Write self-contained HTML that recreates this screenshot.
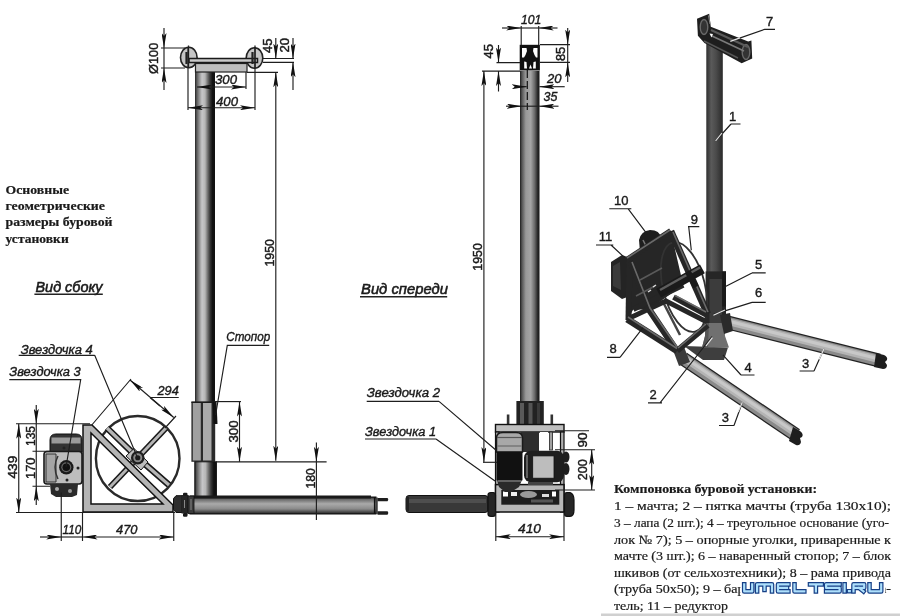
<!DOCTYPE html>
<html><head><meta charset="utf-8"><style>
html,body{margin:0;padding:0;background:#fff;width:900px;height:616px;overflow:hidden}
svg{position:absolute;left:0;top:0;will-change:transform}
.s{font-family:"Liberation Sans",sans-serif;font-style:italic;fill:#1a1a1a;stroke:#1a1a1a;stroke-width:0.38}
.b{font-family:"Liberation Serif",serif;fill:#1a1a1a;stroke:#1a1a1a;stroke-width:0.2}
.dl{stroke:#1e1e1e;stroke-width:1.15;fill:none}
</style></head><body>
<svg width="900" height="616" viewBox="0 0 900 616">
<defs>
<linearGradient id="cylV" x1="0" x2="1" y1="0" y2="0">
<stop offset="0" stop-color="#222"/><stop offset="0.08" stop-color="#555"/><stop offset="0.2" stop-color="#8a8a8a"/><stop offset="0.35" stop-color="#c6c6c8"/><stop offset="0.5" stop-color="#b6b6b6"/><stop offset="0.62" stop-color="#777"/><stop offset="0.75" stop-color="#383838"/><stop offset="0.88" stop-color="#111"/><stop offset="1" stop-color="#111"/>
</linearGradient>
<linearGradient id="cylH" x1="0" x2="0" y1="0" y2="1">
<stop offset="0" stop-color="#1e1e1e"/><stop offset="0.12" stop-color="#666"/><stop offset="0.4" stop-color="#aaa"/><stop offset="0.7" stop-color="#8a8a8a"/><stop offset="0.9" stop-color="#444"/><stop offset="1" stop-color="#1a1a1a"/>
</linearGradient>
<marker id="ar" viewBox="0 0 15 5" refX="15" refY="2.5" markerWidth="15" markerHeight="5" orient="auto-start-reverse" markerUnits="userSpaceOnUse"><path d="M0,0 L15,2.5 L0,5 L3,2.5z" fill="#111"/></marker>
<linearGradient id="cylF" x1="0" x2="1" y1="0" y2="0">
<stop offset="0" stop-color="#1e1e1e"/><stop offset="0.1" stop-color="#555"/><stop offset="0.3" stop-color="#999"/><stop offset="0.55" stop-color="#a5a5a5"/><stop offset="0.75" stop-color="#6a6a6a"/><stop offset="0.9" stop-color="#2a2a2a"/><stop offset="1" stop-color="#151515"/>
</linearGradient>
</defs>

<!-- ============ SIDE VIEW ============ -->
<!-- mast -->
<rect x="195" y="72" width="20" height="330" fill="url(#cylV)"/>
<!-- top block -->
<rect x="195.5" y="63.5" width="51.5" height="8.5" fill="#bdbdbd" stroke="#222" stroke-width="1.2"/>
<ellipse cx="188.8" cy="57.5" rx="8.3" ry="10.3" fill="#c6c6c6" stroke="#222" stroke-width="1.6"/>
<ellipse cx="254.5" cy="58" rx="8.3" ry="10.3" fill="#c6c6c6" stroke="#222" stroke-width="1.6"/>
<rect x="189" y="58.5" width="68.5" height="4" fill="#c8c8c8" stroke="#1a1a1a" stroke-width="1.5"/>
<path d="M188.5,45.5 L188.5,68 M255,45.5 L255,68" stroke="#222" stroke-width="1.3"/>
<path d="M186.5,52 L186.5,64 M252.5,52 L252.5,64" stroke="#222" stroke-width="2.2"/>
<!-- sleeve -->
<rect x="191.4" y="401.6" width="23.8" height="60.2" fill="#2a2a2a"/>
<rect x="192.8" y="403" width="8" height="57.5" fill="#a0a0a0"/>
<rect x="203" y="403" width="8.5" height="57.5" fill="#aaaaaa"/>
<rect x="191.4" y="401.6" width="23.8" height="1.4" fill="#1a1a1a"/>
<path d="M212.5,402 L216.5,402 L217.5,424 L213.5,424Z" fill="#111"/>
<!-- lower pipe -->
<rect x="194.8" y="461.8" width="21.6" height="35.5" fill="url(#cylV)" stroke="#111" stroke-width="1"/>
<!-- horizontal pipe -->
<rect x="190" y="497" width="186" height="17" fill="url(#cylH)" stroke="#111" stroke-width="1"/>
<rect x="190" y="495.5" width="181" height="3" fill="#1a1a1a"/>
<path d="M374.5,497 L374.5,514 M377,497.5 L377,514" stroke="#111" stroke-width="1.2"/>
<path d="M377.5,498 L387.5,498 Q389,499.5 387.5,501.3 L377.5,501.3Z M377.5,511.3 L387.5,511.3 Q389,513 387.5,514.7 L377.5,514.7Z" fill="#1e1e1e"/>
<!-- flange -->
<path d="M173.5,498.5 L176,495.7 L182,495.7 L182,512.5 L176,512.5 L173.5,509.5Z" fill="#2e2e2e" stroke="#111" stroke-width="1"/>
<rect x="181.5" y="495" width="7" height="18.5" fill="#262626"/>
<rect x="183" y="492.8" width="4.5" height="3" rx="1.2" fill="#1a1a1a"/>
<rect x="183" y="513" width="4.5" height="3.8" rx="1.2" fill="#1a1a1a"/>
<rect x="188" y="496" width="6" height="17.5" fill="#3a3a3a" stroke="#111" stroke-width="0.8"/>
<path d="M184.5,500 L184.5,508 M191,499 L191,510" stroke="#888" stroke-width="1"/>
<!-- wheel -->
<ellipse cx="137.7" cy="458.5" rx="41.8" ry="42.5" fill="none" stroke="#2a2a2a" stroke-width="2.4"/>
<path d="M107,428 L137.75,457.75 L169,485" stroke="#1a1a1a" stroke-width="6.5" fill="none"/>
<path d="M107,428 L137.75,457.75 L169,485" stroke="#b5b5b5" stroke-width="3.2" fill="none"/>
<path d="M166,428 L110,487" stroke="#1a1a1a" stroke-width="6"/>
<path d="M166,428 L110,487" stroke="#b5b5b5" stroke-width="2.8"/>
<!-- triangle frame -->
<path d="M83,425 L92,425 L173,505 L173,512 L83,512 Z M91,433 L91,504 L163,504 Z" fill="#b4b4b4" fill-rule="evenodd" stroke="#111" stroke-width="1.5"/>
<path d="M126,456 L134,448.5 L148,462 L141,470Z" fill="#bdbdbd" stroke="#1a1a1a" stroke-width="1"/>
<circle cx="137.75" cy="457.75" r="6.8" fill="#1e1e1e"/>
<circle cx="137.75" cy="457.75" r="4.5" fill="#888"/>
<circle cx="137.75" cy="457.75" r="2.6" fill="#1a1a1a"/>
<!-- motor -->
<path d="M50,452 L50,440 Q50,434 56,434 L76,434 Q82,434 82,440 L82,452Z" fill="#333" stroke="#111" stroke-width="1"/>
<rect x="51.5" y="437.5" width="29" height="6" fill="#9a9a9a"/>
<rect x="44" y="451.5" width="38" height="32.5" rx="3" fill="#bdbdbd" stroke="#1a1a1a" stroke-width="1.6"/>
<path d="M46,454 L56,454 L56,482 L46,482Z" fill="#a5a5a5" stroke="#333" stroke-width="1"/>
<path d="M58,456 Q52,467 58,479" stroke="#333" stroke-width="1.5" fill="none"/>
<circle cx="66.3" cy="467.3" r="7.2" fill="#1a1a1a"/>
<circle cx="66.3" cy="467.3" r="5" fill="#666"/>
<circle cx="66.3" cy="467.3" r="3.8" fill="#111"/>
<circle cx="78" cy="468" r="1.5" fill="#222"/><circle cx="67" cy="480" r="1.5" fill="#222"/><circle cx="64" cy="448" r="1.5" fill="#222"/>
<path d="M50,484 L78,484 L77,495 L72,497 L56,497 L51,494Z" fill="#2a2a2a"/>
<circle cx="57" cy="489" r="2" fill="#aaa"/><circle cx="70" cy="491" r="2" fill="#999"/>

<!-- dimension lines side view -->
<g class="dl">
<path d="M164,28 L164,48" marker-end="url(#ar)"/>
<path d="M164,90 L164,68" marker-end="url(#ar)"/>
<path d="M164,48 L164,68"/>
<path d="M161,48 L185,48 M161,68 L185,68"/>
<path d="M188,47 L188,110 M255,47 L255,110"/>
<path d="M246,72 L246,89"/>
<path d="M197,87 L246,87" marker-start="url(#ar)" marker-end="url(#ar)"/>
<path d="M188,107.7 L255,107.7" marker-start="url(#ar)" marker-end="url(#ar)"/>
<path d="M263,58.5 L294,58.5 M263,62.3 L294,62.3 M247,72.3 L278,72.3"/>
<path d="M275.8,38 L275.8,58.5" marker-end="url(#ar)"/>
<path d="M275.8,72.3 L275.8,460.7" marker-start="url(#ar)" marker-end="url(#ar)"/>
<path d="M293,38 L293,58.5" marker-end="url(#ar)"/>
<path d="M293,90 L293,62.3" marker-end="url(#ar)"/>
<path d="M214,401.6 L241,401.6"/>
<path d="M239.5,401.6 L239.5,461.8" marker-start="url(#ar)" marker-end="url(#ar)"/>
<path d="M216,461.8 L326.6,461.8"/>
<path d="M316.4,442.5 L316.4,461.8" marker-end="url(#ar)"/>
<path d="M316.4,461.8 L316.4,520"/>
<path d="M94.7,355.3 L18.7,355.3 M94.7,355.3 L137.7,458.2"/>
<path d="M9.3,379.6 L80.7,379.6 L66,467"/>
<path d="M269.2,345.4 L227.3,345.4 L215.6,415"/>
<!-- 439 / 135 / 170 -->
<path d="M16,423.75 L90,423.75 M16,512.5 L175,512.5"/>
<path d="M18.75,423.75 L18.75,512.5" marker-start="url(#ar)" marker-end="url(#ar)"/>
<path d="M36.25,405 L36.25,423.75" marker-end="url(#ar)"/>
<path d="M36.25,423.75 L36.25,486.25"/>
<path d="M36.25,505 L36.25,486.25" marker-end="url(#ar)"/>
<path d="M32.5,451.25 L50,451.25 M32.5,486.25 L50,486.25"/>
<!-- 110 / 470 -->
<path d="M61.25,492.5 L61.25,541 M82.5,512 L82.5,541 M173.75,512 L173.75,541"/>
<path d="M40,537 L61.25,537" marker-end="url(#ar)"/>
<path d="M61.25,537 L82.5,537"/>
<path d="M82.5,537 L173.75,537" marker-start="url(#ar)" marker-end="url(#ar)"/>
<!-- 294 -->
<path d="M130,380 L173.75,417.5" marker-start="url(#ar)" marker-end="url(#ar)"/>
<path d="M91.8,425 L131,379 M165,428 L176,416"/>
<path d="M150,397.5 L178.75,397.5 M150,397.5 L160,406"/>
</g>
<text font-style="normal" style="font-style:normal;stroke-width:0.45" textLength="22.75" lengthAdjust="spacingAndGlyphs" class="s" font-size="12.5" transform="translate(17.4,478.5) rotate(-90)">439</text>
<text font-style="normal" style="font-style:normal;stroke-width:0.45" textLength="20" lengthAdjust="spacingAndGlyphs" class="s" font-size="12.5" transform="translate(34.5,446) rotate(-90)">135</text>
<text font-style="normal" style="font-style:normal;stroke-width:0.45" textLength="21.5" lengthAdjust="spacingAndGlyphs" class="s" font-size="12.5" transform="translate(34.5,479) rotate(-90)">170</text>
<text textLength="18.75" lengthAdjust="spacingAndGlyphs" class="s" x="62.5" y="534.25" font-size="12.5">110</text>
<text textLength="21.5" lengthAdjust="spacingAndGlyphs" class="s" x="116" y="534.25" font-size="12.5">470</text>
<text textLength="21.25" lengthAdjust="spacingAndGlyphs" class="s" x="157.5" y="395" font-size="12.5">294</text>
<!-- side texts -->
<text class="b" x="5.5" y="193.7" font-size="13.5" font-weight="bold" textLength="63.5" lengthAdjust="spacingAndGlyphs">Основные</text>
<text class="b" x="5.5" y="210" font-size="13.5" font-weight="bold" textLength="99.5" lengthAdjust="spacingAndGlyphs">геометрические</text>
<text class="b" x="5.5" y="226.3" font-size="13.5" font-weight="bold" textLength="107" lengthAdjust="spacingAndGlyphs">размеры буровой</text>
<text class="b" x="5.5" y="242.5" font-size="13.5" font-weight="bold" textLength="63.25" lengthAdjust="spacingAndGlyphs">установки</text>
<text textLength="67" lengthAdjust="spacingAndGlyphs" class="s" x="35.5" y="291.8" font-size="14.8" style="stroke-width:0.55">Вид сбоку</text>
<path d="M34.4,294.3 L102.8,294.3" stroke="#222" stroke-width="1.5"/>
<text textLength="72" lengthAdjust="spacingAndGlyphs" class="s" x="20.7" y="354" font-size="12.5">Звездочка 4</text>
<text textLength="71.4" lengthAdjust="spacingAndGlyphs" class="s" x="9.3" y="376" font-size="12.5">Звездочка 3</text>
<text textLength="43.9" lengthAdjust="spacingAndGlyphs" class="s" x="226.3" y="341" font-size="12.5">Стопор</text>
<text textLength="22" lengthAdjust="spacingAndGlyphs" class="s" x="215" y="84.3" font-size="12.5">300</text>
<text textLength="22" lengthAdjust="spacingAndGlyphs" class="s" x="216" y="105.7" font-size="12.5">400</text>
<text font-style="normal" style="font-style:normal;stroke-width:0.45" textLength="31.3" lengthAdjust="spacingAndGlyphs" class="s" font-size="12.5" transform="translate(157.8,74) rotate(-90)">Ø100</text>
<text font-style="normal" style="font-style:normal;stroke-width:0.45" textLength="14.5" lengthAdjust="spacingAndGlyphs" class="s" font-size="12.5" transform="translate(272,53) rotate(-90)">45</text>
<text font-style="normal" style="font-style:normal;stroke-width:0.45" textLength="14.5" lengthAdjust="spacingAndGlyphs" class="s" font-size="12.5" transform="translate(289,52.5) rotate(-90)">20</text>
<text font-style="normal" style="font-style:normal;stroke-width:0.45" textLength="22" lengthAdjust="spacingAndGlyphs" class="s" font-size="12.5" transform="translate(238,442.5) rotate(-90)">300</text>
<text font-style="normal" style="font-style:normal;stroke-width:0.45" textLength="20.4" lengthAdjust="spacingAndGlyphs" class="s" font-size="12.5" transform="translate(314.5,488.5) rotate(-90)">180</text>


<!-- ============ FRONT VIEW ============ -->
<rect x="520" y="71" width="19.5" height="331" fill="url(#cylF)"/>
<path d="M527.3,70 L527.3,110" stroke="#111" stroke-width="1.2" stroke-dasharray="8,3"/>
<!-- top block -->
<rect x="519.7" y="44.8" width="20.2" height="25.7" fill="#111"/>
<path d="M522,48 L526.5,48 L527,51 L525.5,55 L524,57.5 L522,57.5Z" fill="#fff"/>
<path d="M537.5,48 L533.5,48 L533,51 L534.5,55 L536,57.5 L537.5,57.5Z" fill="#fff"/>
<path d="M524.2,61.5 L526.5,62 L527,68.5 L524.2,68.5Z M529,68.5 L532,68.5 L530.5,64.5Z M533.5,62 L535.8,61.5 L535.8,68.5 L533,68.5Z" fill="#fff"/>
<!-- collar -->
<rect x="516.4" y="401" width="27.4" height="23.5" fill="#222"/>
<rect x="520" y="403" width="4" height="21" fill="#5a5a5a"/><rect x="528.5" y="403" width="4" height="21" fill="#555"/><rect x="537" y="403" width="3" height="21" fill="#3a3a3a"/>
<rect x="506.8" y="414.5" width="2.6" height="10" fill="#333"/><rect x="550.5" y="414.5" width="2.6" height="10" fill="#333"/>
<!-- frame -->
<rect x="495.5" y="424.5" width="68.5" height="7.5" fill="#bebebe" stroke="#111" stroke-width="1.4"/>
<rect x="495.5" y="432" width="3.5" height="80" fill="#b0b0b0" stroke="#111" stroke-width="1.2"/>
<rect x="560.5" y="432" width="3.5" height="80" fill="#b0b0b0" stroke="#111" stroke-width="1.2"/>
<rect x="495.5" y="484.6" width="68.5" height="27.4" fill="#b8b8b8" stroke="#111" stroke-width="1.5"/>
<rect x="501.3" y="490" width="58" height="14.7" fill="#1e1e1e"/>
<rect x="503" y="491.5" width="5" height="5" fill="#fff"/><rect x="552" y="491.5" width="4" height="5" fill="#fff"/>
<rect x="511" y="492" width="6" height="4" fill="#eee"/><rect x="542" y="494" width="7" height="3" fill="#ddd"/>
<ellipse cx="528.5" cy="494.5" rx="8.5" ry="3.5" fill="#9a9a9a"/>
<rect x="531" y="499.5" width="22" height="3" fill="#555"/>
<!-- inner mast below frame -->
<rect x="520.5" y="432" width="18.5" height="20" fill="#2e2e2e"/>
<rect x="540" y="432" width="8" height="18" fill="#fff"/>
<rect x="549.5" y="432" width="3" height="18" fill="#a0a0a0" stroke="#222" stroke-width="0.8"/>
<!-- motor -->
<path d="M496.5,452 L496.5,438 Q496.5,432.5 503,432.5 L516,432.5 Q522.5,432.5 522.5,438 L522.5,452Z" fill="#a8a8a8" stroke="#1a1a1a" stroke-width="1.5"/>
<path d="M497,437.5 L522,437.5" stroke="#555" stroke-width="1.2"/>
<path d="M497,446 L522,446" stroke="#777" stroke-width="1.5"/>
<rect x="496.5" y="451.8" width="26" height="28.5" fill="#111"/>
<path d="M497,480 L522,480 L519,487 L511,492 L505,492 L499,487Z" fill="#2a2a2a"/>
<path d="M498,481 L521,481" stroke="#888" stroke-width="1.2"/>
<!-- gearbox -->
<rect x="524" y="450.8" width="40" height="31.5" rx="7" fill="#1e1e1e"/>
<rect x="532.7" y="455.9" width="21.3" height="22.3" fill="#bdbdbd" stroke="#111" stroke-width="0.8"/>
<path d="M527,455 L527,478" stroke="#777" stroke-width="1.5"/>
<ellipse cx="566" cy="457" rx="3.5" ry="5.5" fill="#1e1e1e"/>
<ellipse cx="566" cy="469" rx="3.5" ry="6" fill="#1e1e1e"/>
<rect x="528" y="482" width="25" height="3" fill="#444"/>
<!-- left pipe -->
<rect x="406" y="495.5" width="82" height="17" rx="3" fill="#383838" stroke="#111" stroke-width="1"/>
<rect x="408" y="499" width="78" height="4" fill="#4e4e4e"/>
<rect x="406" y="497" width="3" height="14" fill="#222"/>
<path d="M488,495 Q488,492.5 491,492.5 L493,492.5 Q495.5,492.5 495.5,495 L495.5,514 Q495.5,516.3 493,516.3 L491,516.3 Q488,516.3 488,514Z" fill="#262626" stroke="#111" stroke-width="1.2"/>
<path d="M564.5,495 Q564.5,492.5 567,492.5 L570,492.5 Q574,494 574,500 L574,510 Q574,516.3 570,516.3 L567,516.3 Q564.5,516.3 564.5,514Z" fill="#262626" stroke="#111" stroke-width="1.2"/>

<g class="dl">
<path d="M502,28 L521.2,28" marker-end="url(#ar)"/>
<path d="M557.5,28 L538.7,28" marker-end="url(#ar)"/>
<path d="M521.2,28 L538.7,28"/>
<path d="M521.2,26 L521.2,45 M538.7,26 L538.7,45"/>
<path d="M540,44.6 L570,44.6 M540,62.4 L570,62.4"/>
<path d="M567.7,28 L567.7,44.6" marker-end="url(#ar)"/>
<path d="M567.7,82 L567.7,62.4" marker-end="url(#ar)"/>
<path d="M567.7,44.6 L567.7,62.4"/>
<path d="M496.5,62.6 L520,62.6 M482,71.1 L520,71.1"/>
<path d="M498.5,45 L498.5,62.6" marker-end="url(#ar)"/>
<path d="M498.5,91.5 L498.5,71.1" marker-end="url(#ar)"/>
<path d="M483.9,462 L483.9,71.1" marker-start="url(#ar)" marker-end="url(#ar)"/>
<path d="M517.5,86.7 L526.7,86.7" marker-end="url(#ar)"/>
<path d="M564.7,86.7 L539.4,86.7" marker-end="url(#ar)"/>
<path d="M506,106.2 L521.9,106.2" marker-end="url(#ar)"/>
<path d="M558.5,106.2 L539.4,106.2" marker-end="url(#ar)"/>
<path d="M521.9,106.2 L539.4,106.2"/>
<path d="M483,462.3 L497,462.3"/>
<path d="M555,430.7 L589,430.7 M555,449.7 L595,449.7 M555,490 L595,490"/>
<path d="M591.7,449.7 L591.7,490" marker-start="url(#ar)" marker-end="url(#ar)"/>
<path d="M495.8,512 L495.8,541 M564,512 L564,541"/>
<path d="M495.8,536.7 L564,536.7" marker-start="url(#ar)" marker-end="url(#ar)"/>
<path d="M439,401.4 L366.7,401.4 M439,401.4 L495.8,450"/>
<path d="M436,439 L365,439 M436,439 L495,481"/>
</g>
<text textLength="20.3" lengthAdjust="spacingAndGlyphs" class="s" x="521" y="24" font-size="12.5">101</text>
<text textLength="14.5" lengthAdjust="spacingAndGlyphs" class="s" x="547" y="82.8" font-size="12.5">20</text>
<text textLength="13.8" lengthAdjust="spacingAndGlyphs" class="s" x="543.6" y="100.6" font-size="12.5">35</text>
<text font-style="normal" style="font-style:normal;stroke-width:0.45" textLength="14.2" lengthAdjust="spacingAndGlyphs" class="s" font-size="12.5" transform="translate(565,61) rotate(-90)">85</text>
<text font-style="normal" style="font-style:normal;stroke-width:0.45" textLength="14.5" lengthAdjust="spacingAndGlyphs" class="s" font-size="12.5" transform="translate(492.8,58.5) rotate(-90)">45</text>
<text font-style="normal" style="font-style:normal;stroke-width:0.45" textLength="27.5" lengthAdjust="spacingAndGlyphs" class="s" font-size="12.5" transform="translate(482.2,270.7) rotate(-90)">1950</text>
<text font-style="normal" style="font-style:normal;stroke-width:0.45" textLength="27.5" lengthAdjust="spacingAndGlyphs" class="s" font-size="12.5" transform="translate(274,266.6) rotate(-90)">1950</text>
<text font-style="normal" style="font-style:normal;stroke-width:0.45" textLength="15" lengthAdjust="spacingAndGlyphs" class="s" font-size="12.5" transform="translate(586.6,447.6) rotate(-90)">90</text>
<text font-style="normal" style="font-style:normal;stroke-width:0.45" textLength="21" lengthAdjust="spacingAndGlyphs" class="s" font-size="12.5" transform="translate(586.6,480.2) rotate(-90)">200</text>
<text textLength="23" lengthAdjust="spacingAndGlyphs" class="s" x="518" y="533" font-size="12.5">410</text>
<text textLength="87" lengthAdjust="spacingAndGlyphs" class="s" x="361" y="293.9" font-size="14.8" style="stroke-width:0.55">Вид спереди</text>
<path d="M360,296.8 L447.2,296.8" stroke="#222" stroke-width="1.5"/>
<text textLength="73.3" lengthAdjust="spacingAndGlyphs" class="s" x="366.7" y="397.2" font-size="12.5">Звездочка 2</text>
<text textLength="71" lengthAdjust="spacingAndGlyphs" class="s" x="365" y="436" font-size="12.5">Звездочка 1</text>

<!-- ============ ISOMETRIC VIEW ============ -->
<defs>
<linearGradient id="isoM" x1="0" x2="1" y1="0" y2="0">
<stop offset="0" stop-color="#2e2e2e"/><stop offset="0.3" stop-color="#5a5a5a"/><stop offset="0.6" stop-color="#4a4a4a"/><stop offset="1" stop-color="#2a2a2a"/>
</linearGradient>
<linearGradient id="legG" x1="0" x2="0" y1="0" y2="1">
<stop offset="0" stop-color="#888"/><stop offset="0.35" stop-color="#c8c8c8"/><stop offset="0.8" stop-color="#a0a0a0"/><stop offset="1" stop-color="#666"/>
</linearGradient>
</defs>
<rect x="706.3" y="40" width="16.5" height="232" fill="url(#isoM)"/>
<!-- top pulley block -->
<path d="M697,18.7 L709.2,13.8 L710.8,26.8 L748.2,41.4 L751.4,40.6 L752.2,58.4 L741.7,63.3 L704.4,43 L697.9,35.7Z" fill="#1e1e1e"/>
<ellipse cx="704" cy="27" rx="3.8" ry="7.5" fill="#333" stroke="#6a6a6a" stroke-width="1.4"/>
<ellipse cx="746" cy="52" rx="3.8" ry="7.5" fill="#333" stroke="#6a6a6a" stroke-width="1.4"/>
<path d="M711,30 L748,47" stroke="#5a5a5a" stroke-width="2"/>
<path d="M712,36 L744,51" stroke="#7a7a7a" stroke-width="1.6"/>
<path d="M704,41 L738,58" stroke="#555" stroke-width="1.4"/>
<path d="M709.5,33.5 L713,34 L711.5,37.5Z" fill="#fff"/>
<path d="M708.5,15.5 L710,24" stroke="#888" stroke-width="1"/>
<!-- sleeve / heel / base -->
<rect x="705.6" y="271.4" width="20.4" height="53" fill="#262626"/>
<rect x="709.5" y="279" width="12.5" height="44" fill="#3c3c3c"/>
<rect x="722.2" y="271.4" width="3.8" height="35" fill="#1a1a1a"/>
<path d="M684,346 L728,347.5 L724,360 L703,360Z" fill="#3e3e3e"/>
<path d="M705.6,323 L724.5,323 L725,336 L729,347.5 L702,347.5 L705,336Z" fill="#707070"/>
<path d="M705.6,323 L709,323 L708,347.5 L702,347.5 L705,336Z" fill="#555"/>
<!-- legs -->
<g fill="none" stroke-linecap="butt">
<path d="M727,322.3 L879,360.5" stroke="#222" stroke-width="14"/>
<path d="M727,322.3 L879,360.5" stroke="#8a8a8a" stroke-width="11.5"/>
<path d="M727,321.3 L879,359.5" stroke="#b4b4b4" stroke-width="7"/>
<path d="M727,320.8 L879,359" stroke="#c8c8c8" stroke-width="3"/>
<path d="M683,358.5 L796,435" stroke="#222" stroke-width="14"/>
<path d="M683,358.5 L796,435" stroke="#8a8a8a" stroke-width="11.5"/>
<path d="M683.6,357.7 L796.6,434.2" stroke="#b4b4b4" stroke-width="7"/>
<path d="M684,357.2 L797,433.7" stroke="#c8c8c8" stroke-width="3"/>
</g>
<path d="M876,353 L884,355 Q888,357 887,360 L885,362 L887,365 Q887,369 883,369 L874,367Z" fill="#1e1e1e"/>
<path d="M793,427 L800,431 Q804,434 802,437 L800,438 L801,442 Q800,446 796,445 L789,441Z" fill="#1e1e1e"/>
<path d="M720,315 L730,313 L733,331 L724,334Z" fill="#2a2a2a"/>
<path d="M673,350 L684,347 L690,362 L679,366Z" fill="#3a3a3a"/>
<!-- drive frame 8 -->
<!-- motor / gearbox -->
<path d="M611,262 L622,255 L630,258 L630,296 L622,299 L611,291Z" fill="#242424"/>
<path d="M613,266 L620,262 L621,290 L613,286Z" fill="#3a3a3a"/>
<path d="M639,240 Q641,231 650,230 Q660,230 661,238 L662,250 L640,252Z" fill="#1e1e1e"/>
<path d="M643,240 L646,246" stroke="#777" stroke-width="1.5"/>
<!-- dark interior of front face -->
<path d="M626.3,260.3 L670.8,231.1 L683.2,285 L649,309.4 L633.3,309.4 L627.5,319Z" fill="#262626"/>
<!-- drum -->
<ellipse cx="684" cy="287" rx="21" ry="46" transform="rotate(-14 684 287)" fill="none" stroke="#333" stroke-width="1.8"/>
<path d="M662,300 L680,335" stroke="#444" stroke-width="2.5"/>
<g stroke-linecap="butt" fill="none">
<g stroke="#262626">
<path d="M626.3,260.3 L670.8,231.1" stroke-width="6"/>
<path d="M670.8,231.1 L707.6,314" stroke-width="7"/>
<path d="M629.5,259 L628.5,320" stroke-width="6"/>
<path d="M627.2,319.1 L677.1,350.8" stroke-width="7"/>
<path d="M677.1,350.8 L707.6,325.2" stroke-width="6"/>
<path d="M630.6,261.5 L649,309.4 L676,349.6" stroke-width="6.5"/>
<path d="M633.3,309.4 L683.2,285" stroke-width="5.5"/>
<path d="M673.5,297.2 L707.6,315.5" stroke-width="5.5"/>
<path d="M628,318.7 L666,301 L707,322" stroke-width="5"/>
</g>
<g stroke="#6a6a6a" stroke-width="1.6">
<path d="M627,258 L670,230"/>
<path d="M673,232 L708,312"/>
<path d="M628,317 L677,348.5"/>
<path d="M678,348 L706,324"/>
<path d="M632,262 L650,308 L677,347"/>
<path d="M675,295.5 L706,312"/>
</g>
<path d="M658.6,293.2 L702.4,268.8" stroke="#1a1a1a" stroke-width="10"/>
<path d="M660,290 L700,267.5" stroke="#5e5e5e" stroke-width="2.5"/>
<path d="M688,272 L696,287" stroke="#1a1a1a" stroke-width="6"/>
</g>
<path d="M640,280 L662,268 M636,296 L655,286" stroke="#5a5a5a" stroke-width="1.6"/>
<path d="M648,292 L651,290 M653,287 L656,285" stroke="#ddd" stroke-width="1.5"/>
<g class="dl">
<path d="M764.4,29.4 L775,29.4 M764.4,29.4 L730.3,41.4"/>
<path d="M731,124 L740.5,124 M731,124 L715.6,141"/>
<path d="M609.3,208.7 L631.3,208.7 M628,208.7 L647.3,234.3"/>
<path d="M596,245 L613.3,245 M611,245 L624.7,257.7"/>
<path d="M688,226.6 L699.3,226.6 M688.7,226.6 L691.3,250.3"/>
<path d="M752,272.9 L765.7,272.9 M752,272.9 L723.5,287.6"/>
<path d="M752,302.4 L765.7,302.4 M752,302.4 L713,314.6"/>
<path d="M741,375 L754.5,375 M741,375 L722.9,354.8"/>
<path d="M799.6,371 L814,371 M814,371 L824,348.7"/>
<path d="M719,425.5 L734,425.5 M734,425.5 L742.4,402.3"/>
<path d="M648,402.9 L662,402.9 M660,402.9 L712,336.5"/>
<path d="M607,357.3 L620,357.3 M620,357.3 L643,327.7"/>
</g>
<g stroke="#e8e8e8" stroke-width="1.2" fill="none">
<path d="M722,133 L715.6,141"/>
<path d="M740,37.9 L730.3,41.4"/>
<path d="M725,310 L713.4,315.3"/>
<path d="M706,346 L712.4,337.7"/>
<path d="M819,359.5 L824,348.7"/>
<path d="M738,412 L742.4,402.3"/>
</g>
<g class="s" font-style="normal" font-size="13">
<text x="766" y="26" font-style="normal" style="font-style:normal">7</text>
<text x="729" y="120.7" style="font-style:normal">1</text>
<text x="614" y="205" style="font-style:normal">10</text>
<text x="598.7" y="241" style="font-style:normal">11</text>
<text x="690.7" y="223.7" style="font-style:normal">9</text>
<text x="755" y="268.6" style="font-style:normal">5</text>
<text x="755" y="297.4" style="font-style:normal">6</text>
<text x="744.6" y="371.9" style="font-style:normal">4</text>
<text x="802" y="368.2" style="font-style:normal">3</text>
<text x="721.7" y="421.8" style="font-style:normal">3</text>
<text x="649.6" y="398.6" style="font-style:normal">2</text>
<text x="609.5" y="353" style="font-style:normal">8</text>
</g>

<!-- ============ BOTTOM RIGHT TEXT ============ -->
<g class="b" font-size="12.8">
<text x="614" y="493.3" font-weight="bold" textLength="203" lengthAdjust="spacingAndGlyphs">Компоновка буровой установки:</text>
<text x="614" y="510.2" textLength="277" lengthAdjust="spacingAndGlyphs">1 – мачта; 2 – пятка мачты (труба 130х10);</text>
<text x="614" y="527.0" textLength="275" lengthAdjust="spacingAndGlyphs">3 – лапа (2 шт.); 4 – треугольное основание (уго-</text>
<text x="614" y="543.6" textLength="277" lengthAdjust="spacingAndGlyphs">лок № 7); 5 – опорные уголки, приваренные к</text>
<text x="614" y="560.2" textLength="277" lengthAdjust="spacingAndGlyphs">мачте (3 шт.); 6 – наваренный стопор; 7 – блок</text>
<text x="614" y="576.9" textLength="277" lengthAdjust="spacingAndGlyphs">шкивов (от сельхозтехники); 8 – рама привода</text>
<text x="614" y="593.3" textLength="277" lengthAdjust="spacingAndGlyphs">(труба 50х50); 9 – барабан; 10 – электродвига-</text>
<text x="614" y="609.5" textLength="114" lengthAdjust="spacingAndGlyphs">тель; 11 – редуктор</text>
</g>
<!-- watermark -->
<rect x="601" y="613.5" width="299" height="2.5" fill="#d0d0d0"/>
<rect x="740.5" y="580.5" width="144.5" height="15.5" rx="3" fill="#fff"/>
<g fill="none" stroke-linejoin="round" stroke-linecap="square">
<g id="wmp">
<path d="M744.2,584.4 L744.2,591.4 L752.2,591.4 L752.2,584.4 M757.1,591.4 L757.1,584.4 L772,584.4 L772,591.4 M764.5,584.4 L764.5,590 M788.4,584.4 L778,584.4 L778,591.4 L788.4,591.4 M778,587.9 L787,587.9 M794.5,584.4 L794.5,591.4 L804.3,591.4 M810,584.4 L821.7,584.4 M815.9,584.4 L815.9,591.4 M839.6,584.4 L826.1,584.4 L826.1,587.9 L839.6,587.9 L839.6,591.4 L826.1,591.4 M844.6,584.4 L844.6,591.4 M849,591.2 L849.8,591.2 M853.5,591.4 L853.5,584.4 L864.2,584.4 L864.2,587.9 L853.5,587.9 M859,587.9 L863.5,591.4 M869.5,584.4 L869.5,591.4 L881.2,591.4 L881.2,584.4"/>
</g>
</g>
<use href="#wmp" stroke="#ffffff" stroke-width="7" fill="none" stroke-linejoin="round" stroke-linecap="square"/>
<use href="#wmp" stroke="#163f86" stroke-width="4.6" fill="none" stroke-linejoin="round" stroke-linecap="square"/>
<use href="#wmp" stroke="#aee0fc" stroke-width="2.2" fill="none" stroke-linejoin="round" stroke-linecap="square"/>
</svg>
</body></html>
